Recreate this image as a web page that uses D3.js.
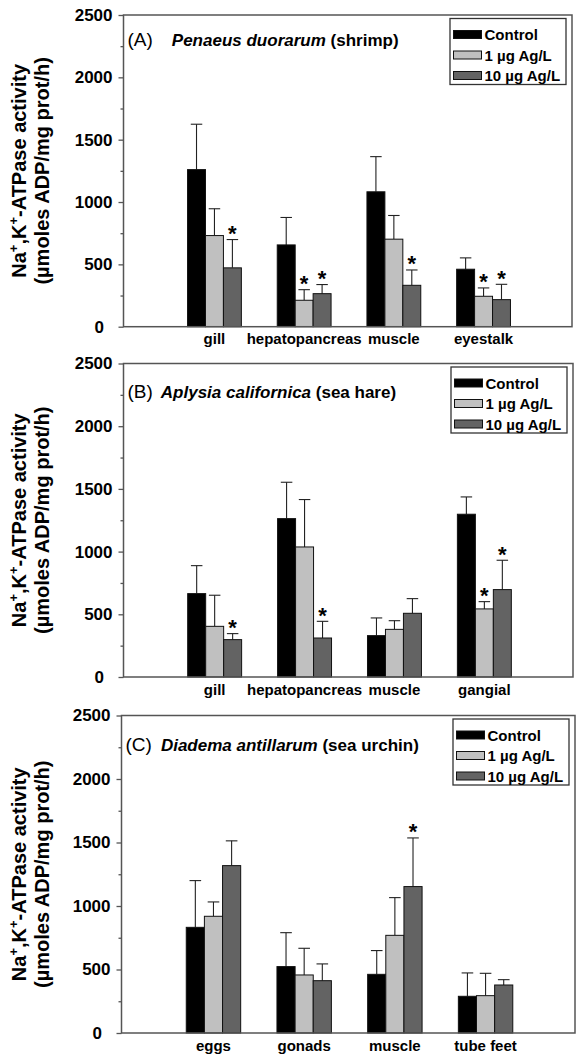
<!DOCTYPE html>
<html>
<head>
<meta charset="utf-8">
<script src="https://cdn.jsdelivr.net/npm/d3@7"></script>
<style>
  html, body { margin: 0; padding: 0; background: #fff; }
  svg { display: block; font-family: "Liberation Sans", Arial, Helvetica, sans-serif; }
</style>
</head>
<body>
<script>
// ---------------- data ----------------
const seriesNames = ["Control", "1 µg Ag/L", "10 µg Ag/L"];
const yTicks = [0, 500, 1000, 1500, 2000, 2500];
const yMinorTicks = [250, 750, 1250, 1750, 2250];

// Panel A: Penaeus duorarum (shrimp)
const categoriesA = ["gill", "hepatopancreas", "muscle", "eyestalk"];
const controlA = [1260, 656, 1082, 461];
const ag1A     = [731, 212, 702, 244];
const ag10A    = [472, 265, 332, 217];
const controlSdA = [364, 220, 282, 91];
const ag1SdA     = [215, 85, 190, 67];
const ag10SdA    = [227, 73, 123, 123];
const starsA = [[0, 2], [1, 1], [1, 2], [2, 2], [3, 1], [3, 2]]; // [category, series]

// Panel B: Aplysia californica (sea hare)
const categoriesB = ["gill", "hepatopancreas", "muscle", "gangial"];
const controlB = [665, 1263, 330, 1298];
const ag1B     = [404, 1037, 380, 543];
const ag10B    = [298, 311, 508, 697];
const controlSdB = [223, 290, 141, 138];
const ag1SdB     = [248, 378, 69, 58];
const ag10SdB    = [48, 133, 117, 234];
const starsB = [[0, 2], [1, 2], [3, 1], [3, 2]];

// Panel C: Diadema antillarum (sea urchin)
const categoriesC = ["eggs", "gonads", "muscle", "tube feet"];
const controlC = [832, 523, 462, 289];
const ag1C     = [919, 457, 769, 294];
const ag10C    = [1318, 412, 1153, 378];
const controlSdC = [368, 267, 187, 184];
const ag1SdC     = [113, 210, 297, 176];
const ag10SdC    = [195, 132, 383, 42];
const starsC = [[2, 2]];

// ---------------- layout / style ----------------
const W = 577, H = 1054;
const colors = ["#000000", "#c0c0c0", "#636363"];

const panels = [
  { tag: "(A)", species: "Penaeus duorarum", common: " (shrimp)",
    cats: categoriesA, means: [controlA, ag1A, ag10A], sds: [controlSdA, ag1SdA, ag10SdA], stars: starsA,
    top: 15, bottom: 326.7, left: 123.5, right: 572, titleY: 31, gap: 19 },
  { tag: "(B)", species: "Aplysia californica", common: " (sea hare)",
    cats: categoriesB, means: [controlB, ag1B, ag10B], sds: [controlSdB, ag1SdB, ag10SdB], stars: starsB,
    top: 363.5, bottom: 677, left: 123.5, right: 573, titleY: 34.5, gap: 8 },
  { tag: "(C)", species: "Diadema antillarum", common: " (sea urchin)",
    cats: categoriesC, means: [controlC, ag1C, ag10C], sds: [controlSdC, ag1SdC, ag10SdC], stars: starsC,
    top: 715.5, bottom: 1033, left: 121.5, right: 575, titleY: 35, gap: 9 }
];

const svg = d3.select("body").append("svg").attr("width", W).attr("height", H);

panels.forEach(p => {
  const g = svg.append("g");
  const y = d3.scaleLinear().domain([0, 2500]).range([p.bottom, p.top]);
  const x0 = d3.scaleBand().domain(p.cats).range([p.left, p.right])
    .paddingInner(0.4).paddingOuter(0.7).align(0.51);
  const x1 = d3.scaleBand().domain(d3.range(seriesNames.length)).range([0, x0.bandwidth()]);

  const rows = [];
  p.cats.forEach((c, ci) => {
    seriesNames.forEach((s, si) => {
      rows.push({ c, ci, si, v: p.means[si][ci], sd: p.sds[si][ci] });
    });
  });

  // error bars (upper only)
  const capHalf = x1.bandwidth() * 0.32;
  const eb = g.append("g").attr("stroke", "#222").attr("stroke-width", 1.1).attr("fill", "none");
  rows.forEach(r => {
    const cx = x0(r.c) + x1(r.si) + x1.bandwidth() / 2;
    eb.append("line").attr("x1", cx).attr("x2", cx).attr("y1", y(r.v)).attr("y2", y(r.v + r.sd));
    eb.append("line").attr("x1", cx - capHalf).attr("x2", cx + capHalf)
      .attr("y1", y(r.v + r.sd)).attr("y2", y(r.v + r.sd));
  });

  // bars
  g.append("g").selectAll("rect").data(rows).join("rect")
    .attr("x", d => x0(d.c) + x1(d.si))
    .attr("y", d => y(d.v))
    .attr("width", x1.bandwidth())
    .attr("height", d => y(0) - y(d.v))
    .attr("fill", d => colors[d.si])
    .attr("stroke", "#111")
    .attr("stroke-width", 1);

  // significance stars
  g.append("g").selectAll("text").data(p.stars).join("text")
    .attr("x", d => x0(p.cats[d[0]]) + x1(d[1]) + x1.bandwidth() / 2)
    .attr("y", d => y(p.means[d[1]][d[0]] + p.sds[d[1]][d[0]]) + 1.5)
    .attr("text-anchor", "middle")
    .attr("font-size", 22).attr("font-weight", "bold")
    .text("*");

  // frame
  g.append("rect")
    .attr("x", p.left).attr("y", p.top)
    .attr("width", p.right - p.left).attr("height", p.bottom - p.top)
    .attr("fill", "none").attr("stroke", "#555").attr("stroke-width", 1.5);

  // y axis
  const ax = g.append("g").attr("transform", `translate(${p.left},0)`)
    .call(d3.axisLeft(y).tickValues(yTicks).tickSize(5).tickPadding(6).tickFormat(d3.format("d")));
  ax.select(".domain").remove();
  ax.selectAll(".tick line").attr("stroke", "#555").attr("stroke-width", 1.3);
  ax.selectAll(".tick text")
    .attr("font-size", 17).attr("font-weight", "bold").attr("fill", "#000")
    .attr("font-family", '"Liberation Sans", Arial, sans-serif')
    .attr("dx", d => d === 0 ? -8.5 : 0);

  const axm = g.append("g").attr("transform", `translate(${p.left},0)`)
    .call(d3.axisLeft(y).tickValues(yMinorTicks).tickSize(3).tickFormat(""));
  axm.select(".domain").remove();
  axm.selectAll(".tick line").attr("stroke", "#555").attr("stroke-width", 1.3);

  // x labels
  g.append("g").selectAll("text").data(p.cats).join("text")
    .attr("x", d => x0(d) + x0.bandwidth() / 2)
    .attr("y", p.bottom + 17.5)
    .attr("text-anchor", "middle")
    .attr("font-size", 15).attr("font-weight", "bold")
    .text(d => d);

  // y-axis title (two lines)
  const cy = (p.top + p.bottom) / 2;
  const t1 = g.append("text").attr("transform", `translate(26,${cy}) rotate(-90)`)
    .attr("text-anchor", "middle").attr("font-size", 20).attr("font-weight", "bold");
  t1.append("tspan").text("Na");
  t1.append("tspan").attr("font-size", 13).attr("dy", -8).text("+");
  t1.append("tspan").attr("dy", 8).text(",K");
  t1.append("tspan").attr("font-size", 13).attr("dy", -8).text("+");
  t1.append("tspan").attr("dy", 8).text("-ATPase activity");

  g.append("text").attr("transform", `translate(49,${cy}) rotate(-90)`)
    .attr("text-anchor", "middle").attr("font-size", 20).attr("font-weight", "bold")
    .text("(µmoles ADP/mg prot/h)");

  // panel title
  const tt = g.append("text").attr("x", p.left + 4).attr("y", p.top + p.titleY);
  tt.append("tspan").attr("font-size", 19).text(p.tag);
  tt.append("tspan").attr("dx", p.gap).attr("font-size", 17).attr("font-weight", "bold")
    .attr("font-style", "italic").text(p.species);
  tt.append("tspan").attr("font-size", 17).attr("font-weight", "bold").text(p.common);

  // legend
  const lg = g.append("g").attr("transform", `translate(${p.right - 122},${p.top + 3.5})`);
  lg.append("rect").attr("width", 116).attr("height", 66)
    .attr("fill", "#fff").attr("stroke", "#333").attr("stroke-width", 1.3);
  const rowY = [16, 36.5, 57];
  seriesNames.forEach((s, i) => {
    lg.append("rect").attr("x", 3.5).attr("y", rowY[i] - 4).attr("width", 28).attr("height", 8)
      .attr("fill", colors[i]).attr("stroke", "#111").attr("stroke-width", 1);
    lg.append("text").attr("x", 34.5).attr("y", rowY[i] + 5.5)
      .attr("font-size", 15).attr("font-weight", "bold").text(s);
  });
});
</script>
</body>
</html>
